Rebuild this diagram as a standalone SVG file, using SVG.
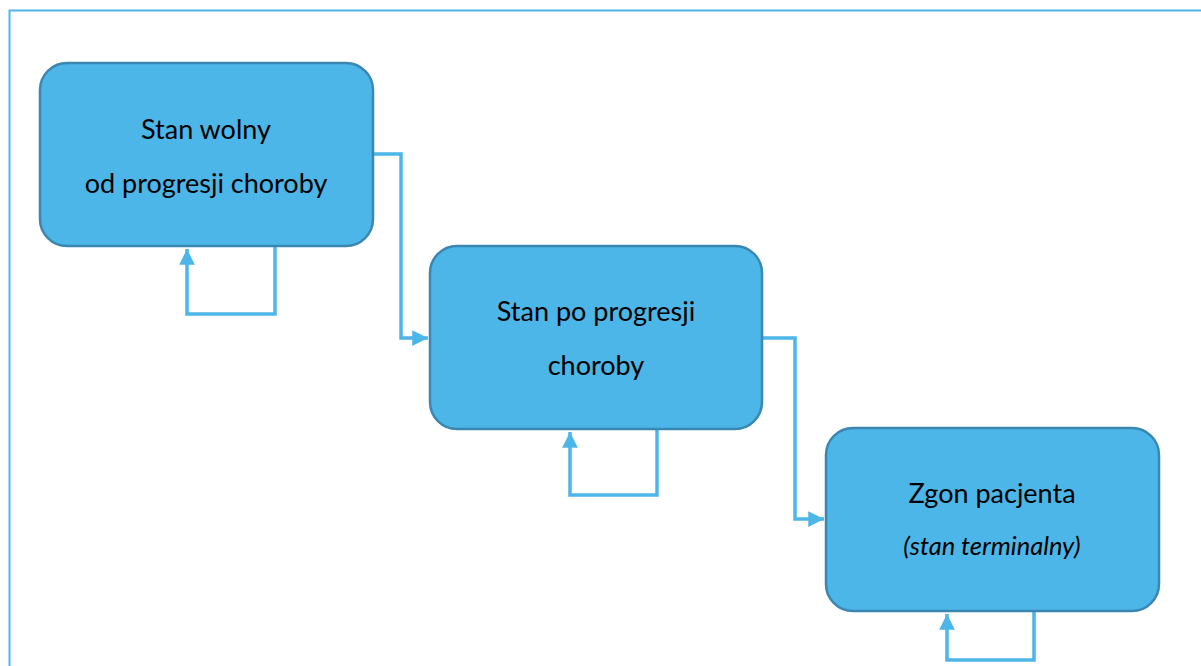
<svg xmlns="http://www.w3.org/2000/svg" width="1201" height="666" viewBox="0 0 1201 666">
<style>
.node{fill:#4CB6E8;stroke:#3A88B2;stroke-width:2.5}
.t{font-family:Lato,"Open Sans","Liberation Sans",sans-serif;font-size:27px;fill:#000;text-anchor:middle}
.ti{font-family:Lato,"Open Sans","Liberation Sans",sans-serif;font-size:25.5px;font-style:italic;fill:#000;text-anchor:middle}
.c{fill:none;stroke:#4CB6E8;stroke-width:3.5}
</style>
<defs>
<marker id="ah" viewBox="0 0 10 10" refX="10" refY="5" markerWidth="4.5" markerHeight="4.5" orient="auto" markerUnits="strokeWidth">
<path d="M0,0 L10,5 L0,10 Z" fill="#4CB6E8"/>
</marker>
</defs>
<rect x="9.5" y="10.5" width="1200" height="670" fill="none" stroke="#4CB6E8" stroke-width="2"/>
<g id="connectors">
<polyline class="c" points="373,154 401,154 401,338 428,338" marker-end="url(#ah)"/>
<polyline class="c" points="762,338 795,338 795,519 824,519" marker-end="url(#ah)"/>
<polyline class="c" points="275,247 275,314 187,314 187,249" marker-end="url(#ah)"/>
<polyline class="c" points="657,430 657,495 570,495 570,432" marker-end="url(#ah)"/>
<polyline class="c" points="1034,612 1034,660 947,660 947,614" marker-end="url(#ah)"/>
</g>
<g id="node1">
<rect class="node" x="40" y="63" width="333" height="183" rx="27"/>
<text class="t" x="206" y="139">Stan wolny</text>
<text class="t" x="206" y="193">od progresji choroby</text>
</g>
<g id="node2">
<rect class="node" x="430" y="246" width="332" height="183" rx="27"/>
<text class="t" x="596" y="321">Stan po progresji</text>
<text class="t" x="596" y="375">choroby</text>
</g>
<g id="node3">
<rect class="node" x="826" y="428" width="333" height="183" rx="27"/>
<text class="t" x="992" y="503">Zgon pacjenta</text>
<text class="ti" x="992" y="555">(stan terminalny)</text>
</g>
</svg>
